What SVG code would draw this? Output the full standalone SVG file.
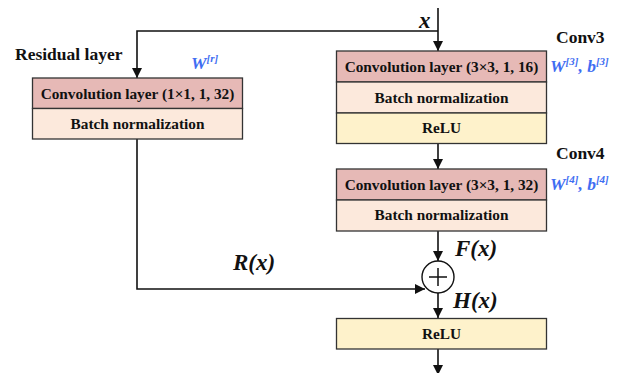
<svg xmlns="http://www.w3.org/2000/svg" width="624" height="373" viewBox="0 0 624 373">
<style>
.box{stroke:#333;stroke-width:1.3}
.conv{fill:#E6B9B6}
.bn{fill:#FCE9DC}
.relu{fill:#FEF2CB}
.t{font-family:"Liberation Serif",serif;font-weight:bold;font-size:15.3px;fill:#111;text-anchor:middle}
.lbl{font-family:"Liberation Serif",serif;font-weight:bold;font-size:17.5px;fill:#111}
.math{font-family:"Liberation Serif",serif;font-weight:bold;font-style:italic;font-size:23px;fill:#111}
.blue{font-family:"Liberation Serif",serif;font-weight:bold;font-style:italic;font-size:17.5px;fill:#3F6EF2}
.sup{font-size:11px}
.ln{fill:none;stroke:#111;stroke-width:1.6}
</style>
<defs>
<marker id="ah" viewBox="0 0 10 10" refX="10" refY="5" markerWidth="10" markerHeight="10" markerUnits="userSpaceOnUse" orient="auto">
<path d="M0,0 L10,5 L0,10 z" fill="#111"/>
</marker>
</defs>
<g id="connectors">
<path class="ln" d="M438,8 V51" marker-end="url(#ah)"/>
<path class="ln" d="M438,31 H137 V78" marker-end="url(#ah)"/>
<path class="ln" d="M438,143 V169" marker-end="url(#ah)"/>
<path class="ln" d="M438,231 V261" marker-end="url(#ah)"/>
<path class="ln" d="M137,139 V289 H425" marker-end="url(#ah)"/>
<path class="ln" d="M438,293 V318" marker-end="url(#ah)"/>
<path class="ln" d="M438,349 V375" marker-end="url(#ah)"/>
</g>
<g id="residual">
<rect class="box conv" x="32.5" y="78" width="210" height="30.5"/>
<rect class="box bn" x="32.5" y="108.5" width="210" height="30.5"/>
<text class="t" x="137.5" y="98.5">Convolution layer (1×1, 1, 32)</text>
<text class="t" x="137.5" y="129">Batch normalization</text>
<text class="lbl" x="15" y="60">Residual layer</text>
<text class="blue" x="191" y="69">W<tspan class="sup" dy="-7">[r]</tspan></text>
</g>
<g id="conv3">
<rect class="box conv" x="336.5" y="51" width="210" height="31"/>
<rect class="box bn" x="336.5" y="82" width="210" height="31"/>
<rect class="box relu" x="336.5" y="113" width="210" height="30.5"/>
<text class="t" x="441.5" y="71.5">Convolution layer (3×3, 1, 16)</text>
<text class="t" x="441.5" y="102.5">Batch normalization</text>
<text class="t" x="441.5" y="133">ReLU</text>
<text class="lbl" x="556" y="43">Conv3</text>
<text class="blue" x="550" y="72">W<tspan class="sup" dy="-7">[3]</tspan><tspan dy="7">, b</tspan><tspan class="sup" dy="-7">[3]</tspan></text>
</g>
<g id="conv4">
<rect class="box conv" x="336.5" y="169" width="210" height="31"/>
<rect class="box bn" x="336.5" y="200" width="210" height="31"/>
<text class="t" x="441.5" y="189.5">Convolution layer (3×3, 1, 32)</text>
<text class="t" x="441.5" y="220">Batch normalization</text>
<text class="lbl" x="556" y="159">Conv4</text>
<text class="blue" x="550" y="190">W<tspan class="sup" dy="-7">[4]</tspan><tspan dy="7">, b</tspan><tspan class="sup" dy="-7">[4]</tspan></text>
</g>
<g id="sum">
<circle cx="438" cy="277" r="16" fill="#fff" stroke="#111" stroke-width="1.4"/>
<path d="M429,277 H447 M438,268 V286" stroke="#111" stroke-width="1.5"/>
</g>
<g id="relu">
<rect class="box relu" x="336.5" y="318.5" width="210" height="30.5"/>
<text class="t" x="441.5" y="338.5">ReLU</text>
</g>
<g id="labels">
<text class="math" x="419" y="28">x</text>
<text class="math" x="455" y="256">F(x)</text>
<text class="math" x="453" y="308">H(x)</text>
<text class="math" x="233" y="270">R(x)</text>
</g>
</svg>
